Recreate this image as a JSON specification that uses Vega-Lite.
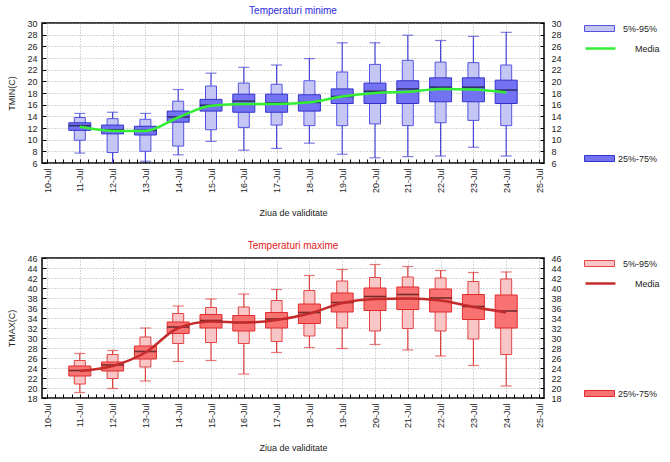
{
  "$schema": "https://vega.github.io/schema/vega-lite/v6.json",
  "padding": {"left": 7, "top": 5, "right": 0, "bottom": 0},
  "datasets": {
    "tmin": [
      {"d": "2024-07-11T00:00:00", "lo": 7.7, "p5": 9.9, "q1": 11.6, "med": 12.4, "q3": 12.9, "p95": 13.8, "hi": 14.5, "mean": 12.2},
      {"d": "2024-07-12T00:00:00", "lo": 5.8, "p5": 7.8, "q1": 11.0, "med": 11.7, "q3": 12.5, "p95": 13.6, "hi": 14.7, "mean": 11.5},
      {"d": "2024-07-13T00:00:00", "lo": 6.3, "p5": 8.0, "q1": 10.8, "med": 11.6, "q3": 12.3, "p95": 13.5, "hi": 14.5, "mean": 11.5},
      {"d": "2024-07-14T00:00:00", "lo": 7.4, "p5": 8.9, "q1": 13.0, "med": 13.9, "q3": 14.9, "p95": 16.6, "hi": 18.6, "mean": 13.8},
      {"d": "2024-07-15T00:00:00", "lo": 9.7, "p5": 11.7, "q1": 14.9, "med": 15.9, "q3": 16.9, "p95": 19.2, "hi": 21.4, "mean": 15.8},
      {"d": "2024-07-16T00:00:00", "lo": 8.2, "p5": 12.1, "q1": 14.7, "med": 16.6, "q3": 17.8, "p95": 19.7, "hi": 22.4, "mean": 16.1},
      {"d": "2024-07-17T00:00:00", "lo": 8.5, "p5": 12.5, "q1": 14.7, "med": 16.3, "q3": 17.8, "p95": 19.5, "hi": 22.8, "mean": 16.1},
      {"d": "2024-07-18T00:00:00", "lo": 9.4, "p5": 12.4, "q1": 14.9, "med": 16.4, "q3": 17.7, "p95": 20.1, "hi": 23.9, "mean": 16.4},
      {"d": "2024-07-19T00:00:00", "lo": 7.5, "p5": 12.4, "q1": 16.2, "med": 17.4, "q3": 18.7, "p95": 21.6, "hi": 26.6, "mean": 17.4},
      {"d": "2024-07-20T00:00:00", "lo": 6.9, "p5": 12.7, "q1": 16.2, "med": 18.3, "q3": 19.7, "p95": 22.9, "hi": 26.6, "mean": 18.0},
      {"d": "2024-07-21T00:00:00", "lo": 7.1, "p5": 12.4, "q1": 16.2, "med": 18.7, "q3": 20.1, "p95": 23.6, "hi": 27.9, "mean": 18.2},
      {"d": "2024-07-22T00:00:00", "lo": 7.2, "p5": 12.9, "q1": 16.5, "med": 19.0, "q3": 20.6, "p95": 23.3, "hi": 27.0, "mean": 18.7},
      {"d": "2024-07-23T00:00:00", "lo": 8.7, "p5": 13.3, "q1": 16.5, "med": 19.0, "q3": 20.6, "p95": 23.2, "hi": 27.7, "mean": 18.6},
      {"d": "2024-07-24T00:00:00", "lo": 7.2, "p5": 12.4, "q1": 16.2, "med": 18.5, "q3": 20.2, "p95": 22.8, "hi": 28.4, "mean": 18.1}
    ],
    "tmax": [
      {"d": "2024-07-11T00:00:00", "lo": 19.1, "p5": 20.8, "q1": 22.4, "med": 23.5, "q3": 24.4, "p95": 25.5, "hi": 26.9, "mean": 23.4},
      {"d": "2024-07-12T00:00:00", "lo": 19.9, "p5": 21.9, "q1": 23.4, "med": 24.6, "q3": 25.2, "p95": 26.7, "hi": 27.5, "mean": 24.4},
      {"d": "2024-07-13T00:00:00", "lo": 21.4, "p5": 24.2, "q1": 25.8, "med": 27.3, "q3": 28.4, "p95": 30.2, "hi": 32.0, "mean": 27.1},
      {"d": "2024-07-14T00:00:00", "lo": 25.3, "p5": 28.9, "q1": 30.9, "med": 32.2, "q3": 33.2, "p95": 34.9, "hi": 36.4, "mean": 32.0},
      {"d": "2024-07-15T00:00:00", "lo": 25.5, "p5": 29.1, "q1": 32.0, "med": 33.5, "q3": 34.7, "p95": 36.1, "hi": 37.8, "mean": 33.3},
      {"d": "2024-07-16T00:00:00", "lo": 22.8, "p5": 28.9, "q1": 31.4, "med": 33.1, "q3": 34.5, "p95": 36.2, "hi": 38.8, "mean": 33.1},
      {"d": "2024-07-17T00:00:00", "lo": 27.1, "p5": 29.3, "q1": 32.0, "med": 33.8, "q3": 35.1, "p95": 37.5, "hi": 39.7, "mean": 33.6},
      {"d": "2024-07-18T00:00:00", "lo": 28.1, "p5": 30.4, "q1": 32.9, "med": 35.1, "q3": 36.8, "p95": 39.5, "hi": 42.5, "mean": 34.9},
      {"d": "2024-07-19T00:00:00", "lo": 27.9, "p5": 32.0, "q1": 35.2, "med": 37.1, "q3": 39.0, "p95": 41.4, "hi": 43.7, "mean": 37.0},
      {"d": "2024-07-20T00:00:00", "lo": 28.7, "p5": 31.4, "q1": 35.5, "med": 38.3, "q3": 40.0, "p95": 42.1, "hi": 44.7, "mean": 37.8},
      {"d": "2024-07-21T00:00:00", "lo": 27.6, "p5": 31.9, "q1": 35.7, "med": 38.7, "q3": 40.2, "p95": 42.2, "hi": 44.3, "mean": 37.9},
      {"d": "2024-07-22T00:00:00", "lo": 26.4, "p5": 31.4, "q1": 35.2, "med": 38.0, "q3": 39.8, "p95": 42.0, "hi": 43.5, "mean": 37.5},
      {"d": "2024-07-23T00:00:00", "lo": 24.5, "p5": 29.8, "q1": 33.7, "med": 36.3, "q3": 38.7, "p95": 41.3, "hi": 43.1, "mean": 36.2},
      {"d": "2024-07-24T00:00:00", "lo": 20.4, "p5": 26.7, "q1": 32.0, "med": 35.4, "q3": 38.6, "p95": 41.8, "hi": 43.2, "mean": 35.1}
    ]
  },
  "spacing": 21,
  "vconcat": [
    {
      "width": 502,
      "height": 140,
      "title": {"text": "Temperaturi minime", "color": "#2a2ad8"},
      "data": {"name": "tmin"},
      "layer": [
        {
          "mark": {"type": "rule", "color": "#4646d8", "strokeWidth": 1.2, "clip": true},
          "encoding": {
            "x": {"field": "d", "type": "temporal",
                  "scale": {"domain": [{"year": 2024, "month": 7, "date": 10}, {"year": 2024, "month": 7, "date": 25}]},
                  "axis": {"orient": "bottom", "title": "Ziua de validitate", "tickCount": {"interval": "day", "step": 1}, "format": "%d-%b",
                           "labelAngle": 270, "labelAlign": "right", "labelBaseline": "middle", "labelOverlap": false, "labelPadding": 9,
                           "tickSize": -4, "tickColor": "#000", "tickWidth": 1, "grid": true, "titlePadding": 16}},
            "y": {"field": "lo", "type": "quantitative", "scale": {"domain": [6, 30], "nice": false},
                  "axis": {"orient": "left", "title": "TMIN(C)", "values": [6,8,10,12,14,16,18,20,22,24,26,28,30], "grid": true, "tickSize": -4, "labelPadding": 9, "titlePadding": 10}},
            "y2": {"field": "hi"}
          }
        },
        {
          "mark": {"type": "tick", "orient": "horizontal", "size": 11, "thickness": 1.2, "color": "#4646d8", "clip": true},
          "encoding": {
            "x": {"field": "d", "type": "temporal", "scale": {"domain": [{"year": 2024, "month": 7, "date": 10}, {"year": 2024, "month": 7, "date": 25}]}, "axis": null},
            "y": {"field": "lo", "type": "quantitative", "scale": {"domain": [6, 30], "nice": false}, "axis": null}}
        },
        {
          "mark": {"type": "tick", "orient": "horizontal", "size": 11, "thickness": 1.2, "color": "#4646d8", "clip": true},
          "encoding": {
            "x": {"field": "d", "type": "temporal", "scale": {"domain": [{"year": 2024, "month": 7, "date": 10}, {"year": 2024, "month": 7, "date": 25}]}, "axis": null},
            "y": {"field": "hi", "type": "quantitative", "scale": {"domain": [6, 30], "nice": false}, "axis": null}}
        },
        {
          "mark": {"type": "bar", "size": 11, "stroke": "#5454e4", "strokeWidth": 1},
          "encoding": {
            "x": {"field": "d", "type": "temporal", "scale": {"domain": [{"year": 2024, "month": 7, "date": 10}, {"year": 2024, "month": 7, "date": 25}]}, "axis": null},
            "y": {"field": "p5", "type": "quantitative", "scale": {"domain": [6, 30], "nice": false}, "axis": null},
            "y2": {"field": "p95"},
            "fill": {"datum": "5%-95%", "type": "nominal", "scale": {"range": ["#c6c6f4"]},
                     "legend": {"orient": "none", "legendX": 552, "legendY": 0, "title": null, "symbolType": "M-3,-0.6H3V0.6H-3Z", "symbolSize": 100, "symbolStrokeColor": "#5454e4", "symbolStrokeWidth": 1, "labelOffset": 18}}
          }
        },
        {
          "mark": {"type": "bar", "size": 22, "stroke": "#3434cc", "strokeWidth": 1},
          "encoding": {
            "x": {"field": "d", "type": "temporal", "scale": {"domain": [{"year": 2024, "month": 7, "date": 10}, {"year": 2024, "month": 7, "date": 25}]}, "axis": null},
            "y": {"field": "q1", "type": "quantitative", "scale": {"domain": [6, 30], "nice": false}, "axis": null},
            "y2": {"field": "q3"},
            "fill": {"datum": "25%-75%", "type": "nominal", "scale": {"range": ["#7272f2"]},
                     "legend": {"orient": "none", "legendX": 552, "legendY": 130, "title": null, "symbolType": "M-3,-0.6H3V0.6H-3Z", "symbolSize": 100, "symbolStrokeColor": "#3434cc", "symbolStrokeWidth": 1, "labelOffset": 13}}
          }
        },
        {
          "mark": {"type": "tick", "orient": "horizontal", "size": 22, "thickness": 1.6, "color": "#151530"},
          "encoding": {
            "x": {"field": "d", "type": "temporal", "scale": {"domain": [{"year": 2024, "month": 7, "date": 10}, {"year": 2024, "month": 7, "date": 25}]},
                  "axis": {"orient": "bottom", "title": null, "labels": false, "grid": false, "tickSize": -4, "tickColor": "#000", "tickWidth": 1,
                           "values": [
                             {"year": 2024, "month": 7, "date": 10, "hours": 6}, {"year": 2024, "month": 7, "date": 10, "hours": 12}, {"year": 2024, "month": 7, "date": 10, "hours": 18},
                             {"year": 2024, "month": 7, "date": 11, "hours": 6}, {"year": 2024, "month": 7, "date": 11, "hours": 12}, {"year": 2024, "month": 7, "date": 11, "hours": 18},
                             {"year": 2024, "month": 7, "date": 12, "hours": 6}, {"year": 2024, "month": 7, "date": 12, "hours": 12}, {"year": 2024, "month": 7, "date": 12, "hours": 18},
                             {"year": 2024, "month": 7, "date": 13, "hours": 6}, {"year": 2024, "month": 7, "date": 13, "hours": 12}, {"year": 2024, "month": 7, "date": 13, "hours": 18},
                             {"year": 2024, "month": 7, "date": 14, "hours": 6}, {"year": 2024, "month": 7, "date": 14, "hours": 12}, {"year": 2024, "month": 7, "date": 14, "hours": 18},
                             {"year": 2024, "month": 7, "date": 15, "hours": 6}, {"year": 2024, "month": 7, "date": 15, "hours": 12}, {"year": 2024, "month": 7, "date": 15, "hours": 18},
                             {"year": 2024, "month": 7, "date": 16, "hours": 6}, {"year": 2024, "month": 7, "date": 16, "hours": 12}, {"year": 2024, "month": 7, "date": 16, "hours": 18},
                             {"year": 2024, "month": 7, "date": 17, "hours": 6}, {"year": 2024, "month": 7, "date": 17, "hours": 12}, {"year": 2024, "month": 7, "date": 17, "hours": 18},
                             {"year": 2024, "month": 7, "date": 18, "hours": 6}, {"year": 2024, "month": 7, "date": 18, "hours": 12}, {"year": 2024, "month": 7, "date": 18, "hours": 18},
                             {"year": 2024, "month": 7, "date": 19, "hours": 6}, {"year": 2024, "month": 7, "date": 19, "hours": 12}, {"year": 2024, "month": 7, "date": 19, "hours": 18},
                             {"year": 2024, "month": 7, "date": 20, "hours": 6}, {"year": 2024, "month": 7, "date": 20, "hours": 12}, {"year": 2024, "month": 7, "date": 20, "hours": 18},
                             {"year": 2024, "month": 7, "date": 21, "hours": 6}, {"year": 2024, "month": 7, "date": 21, "hours": 12}, {"year": 2024, "month": 7, "date": 21, "hours": 18},
                             {"year": 2024, "month": 7, "date": 22, "hours": 6}, {"year": 2024, "month": 7, "date": 22, "hours": 12}, {"year": 2024, "month": 7, "date": 22, "hours": 18},
                             {"year": 2024, "month": 7, "date": 23, "hours": 6}, {"year": 2024, "month": 7, "date": 23, "hours": 12}, {"year": 2024, "month": 7, "date": 23, "hours": 18},
                             {"year": 2024, "month": 7, "date": 24, "hours": 6}, {"year": 2024, "month": 7, "date": 24, "hours": 12}, {"year": 2024, "month": 7, "date": 24, "hours": 18}
                           ]}},
            "y": {"field": "med", "type": "quantitative", "scale": {"domain": [6, 30], "nice": false},
                  "axis": {"orient": "right", "title": null, "values": [6,8,10,12,14,16,18,20,22,24,26,28,30], "grid": false, "tickSize": -4, "labelPadding": 11}}}
        },
        {
          "mark": {"type": "line", "interpolate": "monotone", "strokeWidth": 2.5},
          "encoding": {
            "x": {"field": "d", "type": "temporal", "scale": {"domain": [{"year": 2024, "month": 7, "date": 10}, {"year": 2024, "month": 7, "date": 25}]}, "axis": null},
            "y": {"field": "mean", "type": "quantitative", "scale": {"domain": [6, 30], "nice": false}, "axis": null},
            "stroke": {"datum": "Media", "type": "nominal", "scale": {"range": ["#33ee33"]},
                       "legend": {"orient": "none", "legendX": 552, "legendY": 19, "title": null, "symbolType": "M-3,0H3", "symbolSize": 100, "symbolStrokeWidth": 2.5, "labelOffset": 28}}
          }
        }
      ],
      "resolve": {"scale": {"fill": "independent"}, "legend": {"fill": "independent"}, "axis": {"y": "independent", "x": "independent"}}
    },
    {
      "width": 502,
      "height": 140,
      "title": {"text": "Temperaturi maxime", "color": "#e02020"},
      "data": {"name": "tmax"},
      "layer": [
        {
          "mark": {"type": "rule", "color": "#e04040", "strokeWidth": 1.2, "clip": true},
          "encoding": {
            "x": {"field": "d", "type": "temporal",
                  "scale": {"domain": [{"year": 2024, "month": 7, "date": 10}, {"year": 2024, "month": 7, "date": 25}]},
                  "axis": {"orient": "bottom", "title": "Ziua de validitate", "tickCount": {"interval": "day", "step": 1}, "format": "%d-%b",
                           "labelAngle": 270, "labelAlign": "right", "labelBaseline": "middle", "labelOverlap": false, "labelPadding": 9,
                           "tickSize": -4, "tickColor": "#000", "tickWidth": 1, "grid": true, "titlePadding": 16}},
            "y": {"field": "lo", "type": "quantitative", "scale": {"domain": [18, 46], "nice": false},
                  "axis": {"orient": "left", "title": "TMAX(C)", "values": [18,20,22,24,26,28,30,32,34,36,38,40,42,44,46], "grid": true, "tickSize": -4, "labelPadding": 9, "titlePadding": 10}},
            "y2": {"field": "hi"}
          }
        },
        {
          "mark": {"type": "tick", "orient": "horizontal", "size": 11, "thickness": 1.2, "color": "#e04040", "clip": true},
          "encoding": {
            "x": {"field": "d", "type": "temporal", "scale": {"domain": [{"year": 2024, "month": 7, "date": 10}, {"year": 2024, "month": 7, "date": 25}]}, "axis": null},
            "y": {"field": "lo", "type": "quantitative", "scale": {"domain": [18, 46], "nice": false}, "axis": null}}
        },
        {
          "mark": {"type": "tick", "orient": "horizontal", "size": 11, "thickness": 1.2, "color": "#e04040", "clip": true},
          "encoding": {
            "x": {"field": "d", "type": "temporal", "scale": {"domain": [{"year": 2024, "month": 7, "date": 10}, {"year": 2024, "month": 7, "date": 25}]}, "axis": null},
            "y": {"field": "hi", "type": "quantitative", "scale": {"domain": [18, 46], "nice": false}, "axis": null}}
        },
        {
          "mark": {"type": "bar", "size": 11, "stroke": "#e24646", "strokeWidth": 1},
          "encoding": {
            "x": {"field": "d", "type": "temporal", "scale": {"domain": [{"year": 2024, "month": 7, "date": 10}, {"year": 2024, "month": 7, "date": 25}]}, "axis": null},
            "y": {"field": "p5", "type": "quantitative", "scale": {"domain": [18, 46], "nice": false}, "axis": null},
            "y2": {"field": "p95"},
            "fill": {"datum": "5%-95%", "type": "nominal", "scale": {"range": ["#f8c6c6"]},
                     "legend": {"orient": "none", "legendX": 552, "legendY": 0, "title": null, "symbolType": "M-3,-0.6H3V0.6H-3Z", "symbolSize": 100, "symbolStrokeColor": "#e24646", "symbolStrokeWidth": 1, "labelOffset": 18}}
          }
        },
        {
          "mark": {"type": "bar", "size": 22, "stroke": "#e02c2c", "strokeWidth": 1},
          "encoding": {
            "x": {"field": "d", "type": "temporal", "scale": {"domain": [{"year": 2024, "month": 7, "date": 10}, {"year": 2024, "month": 7, "date": 25}]}, "axis": null},
            "y": {"field": "q1", "type": "quantitative", "scale": {"domain": [18, 46], "nice": false}, "axis": null},
            "y2": {"field": "q3"},
            "fill": {"datum": "25%-75%", "type": "nominal", "scale": {"range": ["#f87272"]},
                     "legend": {"orient": "none", "legendX": 552, "legendY": 130, "title": null, "symbolType": "M-3,-0.6H3V0.6H-3Z", "symbolSize": 100, "symbolStrokeColor": "#e02c2c", "symbolStrokeWidth": 1, "labelOffset": 13}}
          }
        },
        {
          "mark": {"type": "tick", "orient": "horizontal", "size": 22, "thickness": 1.6, "color": "#3a1010"},
          "encoding": {
            "x": {"field": "d", "type": "temporal", "scale": {"domain": [{"year": 2024, "month": 7, "date": 10}, {"year": 2024, "month": 7, "date": 25}]},
                  "axis": {"orient": "bottom", "title": null, "labels": false, "grid": false, "tickSize": -4, "tickColor": "#000", "tickWidth": 1,
                           "values": [
                             {"year": 2024, "month": 7, "date": 10, "hours": 6}, {"year": 2024, "month": 7, "date": 10, "hours": 12}, {"year": 2024, "month": 7, "date": 10, "hours": 18},
                             {"year": 2024, "month": 7, "date": 11, "hours": 6}, {"year": 2024, "month": 7, "date": 11, "hours": 12}, {"year": 2024, "month": 7, "date": 11, "hours": 18},
                             {"year": 2024, "month": 7, "date": 12, "hours": 6}, {"year": 2024, "month": 7, "date": 12, "hours": 12}, {"year": 2024, "month": 7, "date": 12, "hours": 18},
                             {"year": 2024, "month": 7, "date": 13, "hours": 6}, {"year": 2024, "month": 7, "date": 13, "hours": 12}, {"year": 2024, "month": 7, "date": 13, "hours": 18},
                             {"year": 2024, "month": 7, "date": 14, "hours": 6}, {"year": 2024, "month": 7, "date": 14, "hours": 12}, {"year": 2024, "month": 7, "date": 14, "hours": 18},
                             {"year": 2024, "month": 7, "date": 15, "hours": 6}, {"year": 2024, "month": 7, "date": 15, "hours": 12}, {"year": 2024, "month": 7, "date": 15, "hours": 18},
                             {"year": 2024, "month": 7, "date": 16, "hours": 6}, {"year": 2024, "month": 7, "date": 16, "hours": 12}, {"year": 2024, "month": 7, "date": 16, "hours": 18},
                             {"year": 2024, "month": 7, "date": 17, "hours": 6}, {"year": 2024, "month": 7, "date": 17, "hours": 12}, {"year": 2024, "month": 7, "date": 17, "hours": 18},
                             {"year": 2024, "month": 7, "date": 18, "hours": 6}, {"year": 2024, "month": 7, "date": 18, "hours": 12}, {"year": 2024, "month": 7, "date": 18, "hours": 18},
                             {"year": 2024, "month": 7, "date": 19, "hours": 6}, {"year": 2024, "month": 7, "date": 19, "hours": 12}, {"year": 2024, "month": 7, "date": 19, "hours": 18},
                             {"year": 2024, "month": 7, "date": 20, "hours": 6}, {"year": 2024, "month": 7, "date": 20, "hours": 12}, {"year": 2024, "month": 7, "date": 20, "hours": 18},
                             {"year": 2024, "month": 7, "date": 21, "hours": 6}, {"year": 2024, "month": 7, "date": 21, "hours": 12}, {"year": 2024, "month": 7, "date": 21, "hours": 18},
                             {"year": 2024, "month": 7, "date": 22, "hours": 6}, {"year": 2024, "month": 7, "date": 22, "hours": 12}, {"year": 2024, "month": 7, "date": 22, "hours": 18},
                             {"year": 2024, "month": 7, "date": 23, "hours": 6}, {"year": 2024, "month": 7, "date": 23, "hours": 12}, {"year": 2024, "month": 7, "date": 23, "hours": 18},
                             {"year": 2024, "month": 7, "date": 24, "hours": 6}, {"year": 2024, "month": 7, "date": 24, "hours": 12}, {"year": 2024, "month": 7, "date": 24, "hours": 18}
                           ]}},
            "y": {"field": "med", "type": "quantitative", "scale": {"domain": [18, 46], "nice": false},
                  "axis": {"orient": "right", "title": null, "values": [18,20,22,24,26,28,30,32,34,36,38,40,42,44,46], "grid": false, "tickSize": -4, "labelPadding": 11}}}
        },
        {
          "mark": {"type": "line", "interpolate": "monotone", "strokeWidth": 2.5},
          "encoding": {
            "x": {"field": "d", "type": "temporal", "scale": {"domain": [{"year": 2024, "month": 7, "date": 10}, {"year": 2024, "month": 7, "date": 25}]}, "axis": null},
            "y": {"field": "mean", "type": "quantitative", "scale": {"domain": [18, 46], "nice": false}, "axis": null},
            "stroke": {"datum": "Media", "type": "nominal", "scale": {"range": ["#c42a2a"]},
                       "legend": {"orient": "none", "legendX": 552, "legendY": 19, "title": null, "symbolType": "M-3,0H3", "symbolSize": 100, "symbolStrokeWidth": 2.5, "labelOffset": 28}}
          }
        }
      ],
      "resolve": {"scale": {"fill": "independent"}, "legend": {"fill": "independent"}, "axis": {"y": "independent", "x": "independent"}}
    }
  ],
  "resolve": {"scale": {"stroke": "independent", "fill": "independent"}, "legend": {"stroke": "independent", "fill": "independent"}},
  "config": {
    "font": "Liberation Sans",
    "view": {"stroke": "#000", "strokeWidth": 1.5},
    "title": {"fontSize": 10, "fontWeight": "normal", "anchor": "middle", "offset": 3},
    "axis": {
      "labelFont": "Liberation Sans", "labelFontSize": 9, "labelColor": "#222",
      "titleFont": "Liberation Sans", "titleFontSize": 9, "titleFontWeight": "normal", "titleColor": "#222",
      "domain": false, "tickColor": "#000",
      "gridColor": "#999", "gridDash": [1, 2], "gridWidth": 0.8
    },
    "legend": {"labelFont": "Liberation Sans", "labelFontSize": 9, "labelColor": "#222", "padding": 0}
  }
}
